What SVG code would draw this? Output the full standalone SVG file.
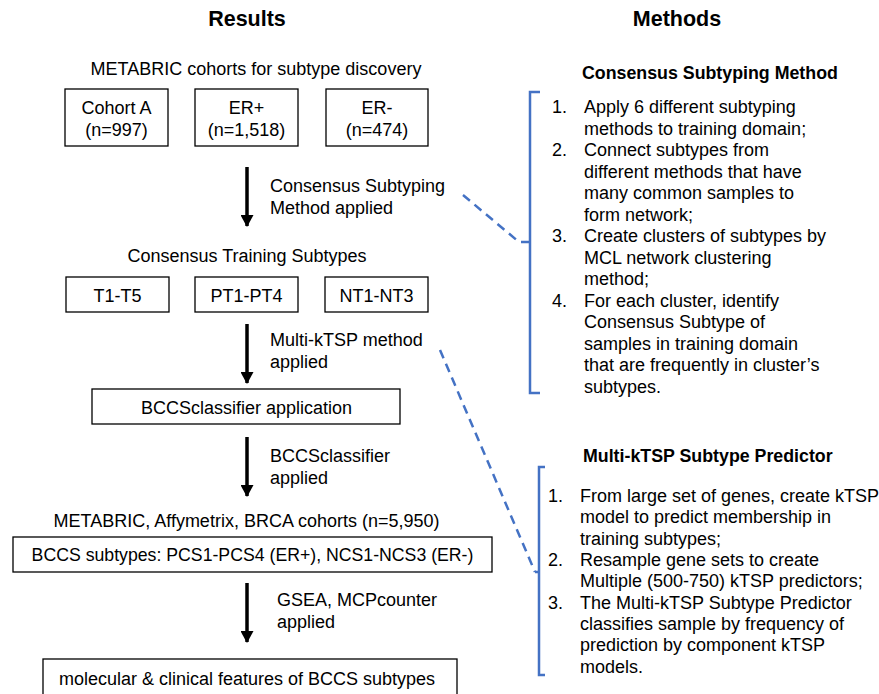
<svg xmlns="http://www.w3.org/2000/svg" width="879" height="694" viewBox="0 0 879 694">
<style>
text{font-family:"Liberation Sans",Arial,sans-serif;font-size:18px;fill:#000}
.t{font-size:21.5px;font-weight:bold;text-anchor:middle}
.h{font-weight:bold;font-size:17.8px}
.c{text-anchor:middle}
.box{fill:#fff;stroke:#000;stroke-width:1.3}
.arr{stroke:#000;stroke-width:3.5;fill:none}
.dash{stroke:#4472C4;stroke-width:2.5;fill:none;stroke-dasharray:9,6}
.br{stroke:#4472C4;stroke-width:2.5;fill:none}
</style>
<defs>
<marker id="ah" viewBox="0 0 12 13" refX="11" refY="6.5" markerWidth="12" markerHeight="13" markerUnits="userSpaceOnUse" orient="auto">
<path d="M0,0 L12,6.5 L0,13 z" fill="#000"/>
</marker>
</defs>
<rect width="879" height="694" fill="#fff"/>
<text class="t" x="247" y="26">Results</text>
<text class="t" x="677" y="26">Methods</text>

<g id="cohorts-label"><text class="c" x="256" y="75">METABRIC cohorts for subtype discovery</text></g>
<g id="cohortA"><rect class="box" x="65" y="89" width="103" height="57"/><text class="c" x="116.5" y="114">Cohort A</text><text class="c" x="116.5" y="136">(n=997)</text></g>
<g id="erpos"><rect class="box" x="195" y="89" width="103" height="57"/><text class="c" x="246.5" y="114">ER+</text><text class="c" x="246.5" y="136">(n=1,518)</text></g>
<g id="erneg"><rect class="box" x="326" y="89" width="102" height="57"/><text class="c" x="377" y="114">ER-</text><text class="c" x="377" y="136">(n=474)</text></g>

<g id="training-label"><text class="c" x="247" y="262">Consensus Training Subtypes</text></g>
<g id="t1t5"><rect class="box" x="66" y="277" width="103" height="35"/><text class="c" x="117.5" y="302">T1-T5</text></g>
<g id="pt1pt4"><rect class="box" x="195" y="277" width="103" height="35"/><text class="c" x="246.5" y="302">PT1-PT4</text></g>
<g id="nt1nt3"><rect class="box" x="325" y="277" width="103" height="35"/><text class="c" x="376.5" y="302">NT1-NT3</text></g>

<g id="bccs-app"><rect class="box" x="92" y="389" width="308" height="35"/><text class="c" x="246.5" y="414">BCCSclassifier application</text></g>

<g id="cohorts2-label"><text class="c" x="246.5" y="527">METABRIC, Affymetrix, BRCA cohorts (n=5,950)</text></g>
<g id="bccs-subtypes"><rect class="box" x="13" y="537" width="479" height="35"/><text class="c" x="252.5" y="561" style="font-size:17.7px">BCCS subtypes: PCS1-PCS4 (ER+), NCS1-NCS3 (ER-)</text></g>

<g id="features"><rect class="box" x="43" y="659" width="414" height="45"/><text class="c" x="247" y="685">molecular &amp; clinical features of BCCS subtypes</text></g>

<g id="method1">
<text class="h" x="582" y="79">Consensus Subtyping Method</text>
<path class="br" d="M540,92 H530 V393 H540 M530,242 H521"/>
<text x="552" y="113">1.</text><text x="584" y="113">Apply 6 different subtyping</text>
<text x="584" y="134.5">methods to training domain;</text>
<text x="552" y="156">2.</text><text x="584" y="156">Connect subtypes from</text>
<text x="584" y="177.5">different methods that have</text>
<text x="584" y="199">many common samples to</text>
<text x="584" y="220.5">form network;</text>
<text x="552" y="242">3.</text><text x="584" y="242">Create clusters of subtypes by</text>
<text x="584" y="263.5">MCL network clustering</text>
<text x="584" y="285">method;</text>
<text x="552" y="306.5">4.</text><text x="584" y="306.5">For each cluster, identify</text>
<text x="584" y="328">Consensus Subtype of</text>
<text x="584" y="349.5">samples in training domain</text>
<text x="584" y="371">that are frequently in cluster’s</text>
<text x="584" y="392.5">subtypes.</text>
</g>

<g id="method2">
<text class="h" x="583" y="462">Multi-kTSP Subtype Predictor</text>
<path class="br" d="M545,467 H539 V675 H545 M539,572 H535"/>
<text x="548" y="502">1.</text><text x="580" y="502">From large set of genes, create kTSP</text>
<text x="580" y="523.3">model to predict membership in</text>
<text x="580" y="544.6">training subtypes;</text>
<text x="548" y="566">2.</text><text x="580" y="566">Resample gene sets to create</text>
<text x="580" y="587.3">Multiple (500-750) kTSP predictors;</text>
<text x="548" y="608.6">3.</text><text x="580" y="608.6">The Multi-kTSP Subtype Predictor</text>
<text x="580" y="630">classifies sample by frequency of</text>
<text x="580" y="651.3">prediction by component kTSP</text>
<text x="580" y="672.6">models.</text>
</g>

<g id="connectors">
<line class="arr" x1="247" y1="167" x2="247" y2="226" marker-end="url(#ah)"/>
<text x="270" y="192">Consensus Subtyping</text><text x="270" y="214">Method applied</text>
<line class="arr" x1="247" y1="324" x2="247" y2="383" marker-end="url(#ah)"/>
<text x="270" y="346">Multi-kTSP method</text><text x="270" y="368">applied</text>
<line class="arr" x1="247" y1="437" x2="247" y2="496" marker-end="url(#ah)"/>
<text x="270" y="462">BCCSclassifier</text><text x="270" y="484">applied</text>
<line class="arr" x1="247" y1="583" x2="247" y2="642" marker-end="url(#ah)"/>
<text x="277" y="606">GSEA, MCPcounter</text><text x="277" y="628">applied</text>
<line class="dash" x1="463" y1="195" x2="519" y2="242"/>
<line class="dash" x1="440" y1="350" x2="535" y2="572"/>
</g>
</svg>
